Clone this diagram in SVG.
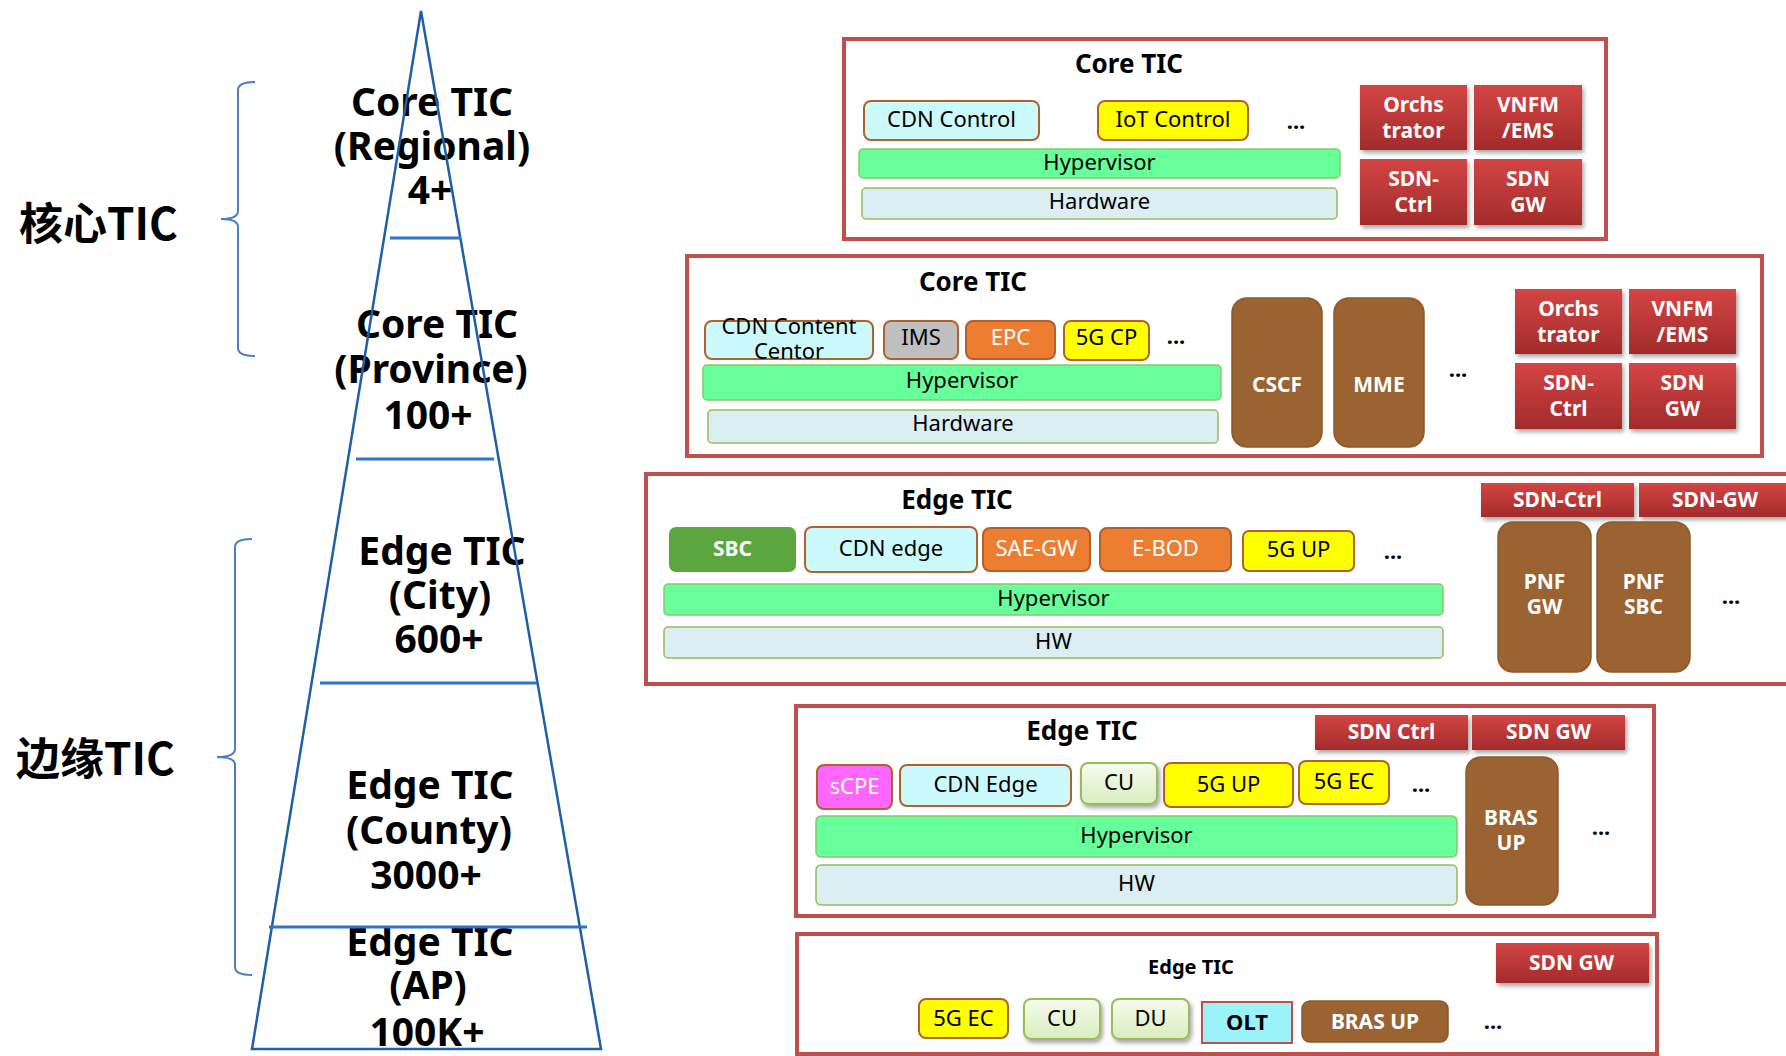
<svg xmlns="http://www.w3.org/2000/svg" width="1786" height="1056" viewBox="0 0 1786 1056">
  <defs>
    <linearGradient id="redg" x1="0" y1="0" x2="0" y2="1">
      <stop offset="0" stop-color="#D44545"/>
      <stop offset="1" stop-color="#A32B2B"/>
    </linearGradient>
    <linearGradient id="lgg" x1="0" y1="0" x2="0" y2="1">
      <stop offset="0" stop-color="#F6FBEE"/>
      <stop offset="1" stop-color="#D8EDBE"/>
    </linearGradient>
    <filter id="sh" x="-10%" y="-10%" width="125%" height="135%">
      <feDropShadow dx="2" dy="3" stdDeviation="2" flood-color="#000" flood-opacity="0.35"/>
    </filter>
  </defs>
  <style>
    text { font-family: "Noto Sans", "Liberation Sans", sans-serif; text-anchor: middle; fill: #000; }
    .cjk { font-family: "Noto Sans CJK SC", "Noto Sans", sans-serif; font-weight: bold; font-size: 44px; text-anchor: start; }
    .pyr { font-size: 39px; font-weight: bold; }
    .ttl { font-size: 26px; font-weight: bold; }
    .lbl { font-size: 22px; }
    .bw { font-size: 21px; font-weight: bold; fill: #fff; }
    .wt { fill: #fff; }
    .dots { font-size: 22px; font-weight: bold; }
    .frame { fill: #fff; stroke: #C0504D; stroke-width: 4; }
    .cyan { fill: #CCFAFC; stroke: #B0622E; stroke-width: 2; }
    .yel { fill: #FFFF00; stroke: #B0622E; stroke-width: 2; }
    .org { fill: #ED7D31; stroke: #B0622E; stroke-width: 2; }
    .gray { fill: #BFBFBF; stroke: #B0622E; stroke-width: 2; }
    .mag { fill: #FF66FF; stroke: #B0622E; stroke-width: 2; }
    .grn { fill: #5BA63E; }
    .lg { fill: url(#lgg); stroke: #9BBB59; stroke-width: 2; filter: url(#sh); }
    .olt { fill: #99F3F9; stroke: #C0504D; stroke-width: 2; }
    .hyp { fill: #66FF99; stroke: #8CC76A; stroke-width: 1.5; }
    .hw { fill: #DBEEF4; stroke: #9BBB59; stroke-width: 1.5; }
    .red { fill: url(#redg); filter: url(#sh); }
    .brn { fill: #9A6331; stroke: #8A5A2C; stroke-width: 1.5; }
    .pyline { fill: none; stroke: #1F5FA8; stroke-width: 2.5; }
    .tier { stroke: #2E75C6; stroke-width: 3; }
    .brace { fill: none; stroke: #4A7EC8; stroke-width: 2; }
  </style>

  <!-- tier names on the left -->
  <g id="label-core">
    <text class="cjk" x="19" y="240">核心TIC</text>
  </g>
  <g id="label-edge">
    <text class="cjk" x="16" y="775">边缘TIC</text>
  </g>

  <!-- braces grouping the tiers -->
  <g id="connectors">
    <path class="brace" d="M255,82 Q238,82 238,90 L238,211 Q238,219 221,219 Q238,219 238,227 L238,348 Q238,356 255,356"/>
    <path class="brace" d="M252,539 Q235,539 235,547 L235,749 Q235,757 217,757 Q235,757 235,765 L235,967 Q235,975 252,975"/>
  </g>

  <!-- pyramid tier texts -->
  <g id="pyramid-text">
    <text class="pyr" x="432" y="116">Core TIC</text>
    <text class="pyr" x="432" y="160">(Regional)</text>
    <text class="pyr" x="430" y="204">4+</text>
    <text class="pyr" x="437" y="338">Core TIC</text>
    <text class="pyr" x="431" y="383">(Province)</text>
    <text class="pyr" x="428" y="429">100+</text>
    <text class="pyr" x="442" y="565">Edge TIC</text>
    <text class="pyr" x="440" y="609">(City)</text>
    <text class="pyr" x="439" y="653">600+</text>
    <text class="pyr" x="430" y="799">Edge TIC</text>
    <text class="pyr" x="429" y="844">(County)</text>
    <text class="pyr" x="426" y="889">3000+</text>
    <text class="pyr" x="430" y="956">Edge TIC</text>
    <text class="pyr" x="428" y="999">(AP)</text>
    <text class="pyr" x="427" y="1046">100K+</text>
  </g>

  <!-- pyramid outline and tier separators -->
  <g id="pyramid">
    <path class="pyline" d="M421,11 L252,1049 L601,1049 Z"/>
    <line class="tier" x1="390" y1="238" x2="461" y2="238"/>
    <line class="tier" x1="356" y1="459" x2="494" y2="459"/>
    <line class="tier" x1="320" y1="683" x2="537" y2="683"/>
    <line class="tier" x1="269" y1="927" x2="587" y2="927"/>
  </g>

  <!-- Core TIC (regional) -->
  <g id="core-regional">
    <rect class="frame" x="844" y="39" width="762" height="200"/>
    <text class="ttl" x="1129" y="73">Core TIC</text>
    <rect class="cyan" x="864" y="101" width="175" height="39" rx="7"/>
    <text class="lbl" x="951.5" y="126.5">CDN Control</text>
    <rect class="yel" x="1098" y="101" width="150" height="39" rx="7"/>
    <text class="lbl" x="1173" y="126.5">IoT Control</text>
    <text class="dots" x="1296" y="129">...</text>
    <rect class="hyp" x="859" y="149" width="481" height="29" rx="4"/>
    <text class="lbl" x="1099.5" y="169.5">Hypervisor</text>
    <rect class="hw" x="862" y="188" width="475" height="31" rx="4"/>
    <text class="lbl" x="1099.5" y="208.5">Hardware</text>
    <rect class="red" x="1360" y="85" width="107" height="65"/>
    <text class="bw" x="1413.5" y="112">Orchs</text>
    <text class="bw" x="1413.5" y="138">trator</text>
    <rect class="red" x="1474" y="85" width="108" height="65"/>
    <text class="bw" x="1528" y="112">VNFM</text>
    <text class="bw" x="1528" y="138">/EMS</text>
    <rect class="red" x="1360" y="159" width="107" height="66"/>
    <text class="bw" x="1413.5" y="186">SDN-</text>
    <text class="bw" x="1413.5" y="212">Ctrl</text>
    <rect class="red" x="1474" y="159" width="108" height="66"/>
    <text class="bw" x="1528" y="186">SDN</text>
    <text class="bw" x="1528" y="212">GW</text>
  </g>

  <!-- Core TIC (province) -->
  <g id="core-province">
    <rect class="frame" x="687" y="256" width="1075" height="200"/>
    <text class="ttl" x="973" y="291">Core TIC</text>
    <rect class="cyan" x="705" y="321" width="168" height="38" rx="7"/>
    <text class="lbl" x="789" y="334">CDN Content</text>
    <text class="lbl" x="789" y="359">Centor</text>
    <rect class="gray" x="884" y="321" width="74" height="38" rx="7"/>
    <text class="lbl" x="921" y="345">IMS</text>
    <rect class="org" x="966" y="321" width="89" height="38" rx="7"/>
    <text class="lbl wt" x="1010.5" y="345">EPC</text>
    <rect class="yel" x="1064" y="321" width="85" height="39" rx="7"/>
    <text class="lbl" x="1106.5" y="345">5G CP</text>
    <text class="dots" x="1176" y="344">...</text>
    <rect class="hyp" x="703" y="365" width="518" height="35" rx="4"/>
    <text class="lbl" x="962" y="388">Hypervisor</text>
    <rect class="hw" x="708" y="410" width="510" height="33" rx="4"/>
    <text class="lbl" x="963" y="430.5">Hardware</text>
    <rect class="brn" x="1232" y="298" width="90" height="149" rx="15"/>
    <text class="bw" x="1277" y="392">CSCF</text>
    <rect class="brn" x="1334" y="298" width="90" height="149" rx="15"/>
    <text class="bw" x="1379" y="392">MME</text>
    <text class="dots" x="1458" y="377">...</text>
    <rect class="red" x="1515" y="289" width="107" height="65"/>
    <text class="bw" x="1568.5" y="316">Orchs</text>
    <text class="bw" x="1568.5" y="342">trator</text>
    <rect class="red" x="1629" y="289" width="107" height="65"/>
    <text class="bw" x="1682.5" y="316">VNFM</text>
    <text class="bw" x="1682.5" y="342">/EMS</text>
    <rect class="red" x="1515" y="363" width="107" height="66"/>
    <text class="bw" x="1568.5" y="390">SDN-</text>
    <text class="bw" x="1568.5" y="416">Ctrl</text>
    <rect class="red" x="1629" y="363" width="107" height="66"/>
    <text class="bw" x="1682.5" y="390">SDN</text>
    <text class="bw" x="1682.5" y="416">GW</text>
  </g>

  <!-- Edge TIC (city) -->
  <g id="edge-city">
    <rect class="frame" x="646" y="474" width="1160" height="210"/>
    <text class="ttl" x="957" y="509">Edge TIC</text>
    <rect class="grn" x="669" y="527" width="127" height="45" rx="7"/>
    <text class="bw" x="732.5" y="556">SBC</text>
    <rect class="cyan" x="805" y="527" width="172" height="45" rx="7"/>
    <text class="lbl" x="891" y="556">CDN edge</text>
    <rect class="org" x="983" y="528" width="107" height="43" rx="7"/>
    <text class="lbl wt" x="1036.5" y="555.5">SAE-GW</text>
    <rect class="org" x="1100" y="528" width="131" height="43" rx="7"/>
    <text class="lbl wt" x="1165.5" y="555.5">E-BOD</text>
    <rect class="yel" x="1243" y="531" width="111" height="40" rx="6"/>
    <text class="lbl" x="1298.5" y="557">5G UP</text>
    <text class="dots" x="1393" y="559">...</text>
    <rect class="hyp" x="664" y="584" width="779" height="31" rx="4"/>
    <text class="lbl" x="1053.5" y="605.5">Hypervisor</text>
    <rect class="hw" x="664" y="627" width="779" height="31" rx="4"/>
    <text class="lbl" x="1053.5" y="648.5">HW</text>
    <rect class="red" x="1481" y="483" width="153" height="34"/>
    <text class="bw" x="1557.5" y="507">SDN-Ctrl</text>
    <rect class="red" x="1639" y="483" width="160" height="34"/>
    <text class="bw" x="1715" y="507">SDN-GW</text>
    <rect class="brn" x="1498" y="522" width="93" height="150" rx="15"/>
    <text class="bw" x="1544.5" y="589">PNF</text>
    <text class="bw" x="1544.5" y="614">GW</text>
    <rect class="brn" x="1597" y="522" width="93" height="150" rx="15"/>
    <text class="bw" x="1643.5" y="589">PNF</text>
    <text class="bw" x="1643.5" y="614">SBC</text>
    <text class="dots" x="1731" y="604">...</text>
  </g>

  <!-- Edge TIC (county) -->
  <g id="edge-county">
    <rect class="frame" x="796" y="706" width="858" height="210"/>
    <text class="ttl" x="1082" y="740">Edge TIC</text>
    <rect class="red" x="1315" y="715" width="153" height="35"/>
    <text class="bw" x="1391.5" y="739">SDN Ctrl</text>
    <rect class="red" x="1472" y="715" width="153" height="35"/>
    <text class="bw" x="1548.5" y="739">SDN GW</text>
    <rect class="mag" x="817" y="765" width="75" height="44" rx="7"/>
    <text class="lbl wt" x="854.5" y="793.5">sCPE</text>
    <rect class="cyan" x="900" y="765" width="171" height="41" rx="7"/>
    <text class="lbl" x="985.5" y="792">CDN Edge</text>
    <rect class="lg" x="1081" y="763" width="76" height="41" rx="7"/>
    <text class="lbl" x="1119" y="790">CU</text>
    <rect class="yel" x="1164" y="763" width="129" height="44" rx="7"/>
    <text class="lbl" x="1228.5" y="791.5">5G UP</text>
    <rect class="yel" x="1299" y="761" width="90" height="43" rx="7"/>
    <text class="lbl" x="1344" y="789">5G EC</text>
    <text class="dots" x="1421" y="792">...</text>
    <rect class="hyp" x="816" y="816" width="641" height="41" rx="5"/>
    <text class="lbl" x="1136.5" y="842.5">Hypervisor</text>
    <rect class="hw" x="816" y="865" width="641" height="40" rx="5"/>
    <text class="lbl" x="1136.5" y="891">HW</text>
    <rect class="brn" x="1466" y="757" width="92" height="148" rx="15"/>
    <text class="bw" x="1511" y="825">BRAS</text>
    <text class="bw" x="1511" y="850">UP</text>
    <text class="dots" x="1601" y="835">...</text>
  </g>

  <!-- Edge TIC (access point) -->
  <g id="edge-ap">
    <rect class="frame" x="797" y="934" width="860" height="120"/>
    <text class="ttl" x="1191" y="974" style="font-size:20px">Edge TIC</text>
    <rect class="red" x="1496" y="943" width="153" height="40"/>
    <text class="bw" x="1571.5" y="970">SDN GW</text>
    <rect class="yel" x="919" y="999" width="89" height="39" rx="7"/>
    <text class="lbl" x="963.5" y="1025.5">5G EC</text>
    <rect class="lg" x="1024" y="999" width="76" height="40" rx="7"/>
    <text class="lbl" x="1062" y="1025.5">CU</text>
    <rect class="lg" x="1112" y="999" width="77" height="40" rx="7"/>
    <text class="lbl" x="1150.5" y="1025.5">DU</text>
    <rect class="olt" x="1202" y="1002" width="90" height="41"/>
    <text class="lbl" x="1247" y="1029.5" style="font-weight:bold">OLT</text>
    <rect class="brn" x="1302" y="1001" width="146" height="41" rx="8"/>
    <text class="bw" x="1375" y="1028.5">BRAS UP</text>
    <text class="dots" x="1493" y="1029">...</text>
  </g>
</svg>
